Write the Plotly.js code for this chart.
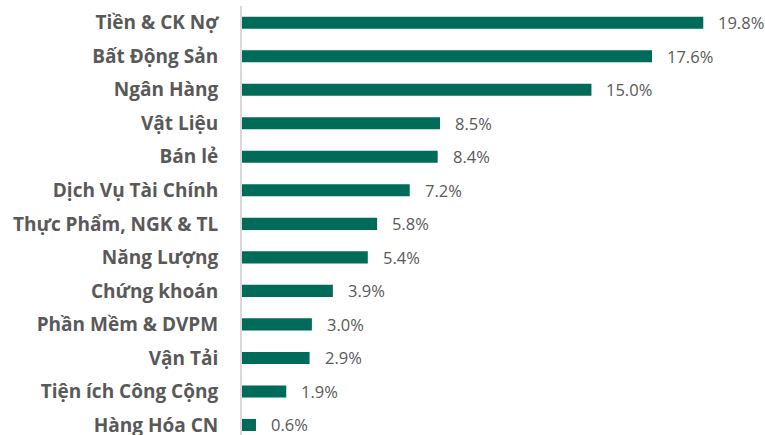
<!DOCTYPE html>
<html>
<head>
<meta charset="utf-8">
<script src="https://cdn.plot.ly/plotly-3.0.1.min.js"></script>
<style>html,body{margin:0;padding:0;background:#fff;}#chart{width:765px;height:435px;}</style>
</head>
<body>
<div id="chart"></div>
<script>
const categories = ["Tiền & CK Nợ","Bất Động Sản","Ngân Hàng","Vật Liệu","Bán lẻ","Dịch Vụ Tài Chính","Thực Phẩm, NGK & TL","Năng Lượng","Chứng khoán","Phần Mềm & DVPM","Vận Tải","Tiện ích Công Cộng","Hàng Hóa CN"];
const values = [19.8,17.6,15.0,8.5,8.4,7.2,5.8,5.4,3.9,3.0,2.9,1.9,0.6];

const trace = {
  type: "bar",
  orientation: "h",
  x: values,
  y: categories,
  width: 0.36,
  marker: {color: "#006b58", line: {width: 0}},
  hoverinfo: "none"
};

const annotations = values.map((v, i) => ({
  x: v, y: categories[i], xref: "x", yref: "y",
  text: v.toFixed(1) + "%",
  showarrow: false, xanchor: "left", xshift: 13,
  font: {family: "Open Sans, sans-serif", size: 16.5, color: "#595959"}
}));

const layout = {
  width: 765, height: 435,
  margin: {l: 242, r: 0, t: 6, b: 0},
  paper_bgcolor: "#fff", plot_bgcolor: "#fff",
  showlegend: false,
  xaxis: {range: [0, 22.45], visible: false, fixedrange: true},
  yaxis: {
    type: "category",
    categoryorder: "array", categoryarray: categories,
    range: [12.3, -0.5], autorange: false,
    showline: true, linecolor: "#d9d9d9", linewidth: 2,
    showgrid: false, zeroline: false, ticks: "",
    ticklabelstandoff: 18,
    tickfont: {family: "Open Sans, sans-serif", size: 19, color: "#595959", weight: "bold"}
  },
  annotations: annotations
};

Plotly.newPlot("chart", [trace], layout, {displayModeBar: false, staticPlot: true});
</script>
</body>
</html>
